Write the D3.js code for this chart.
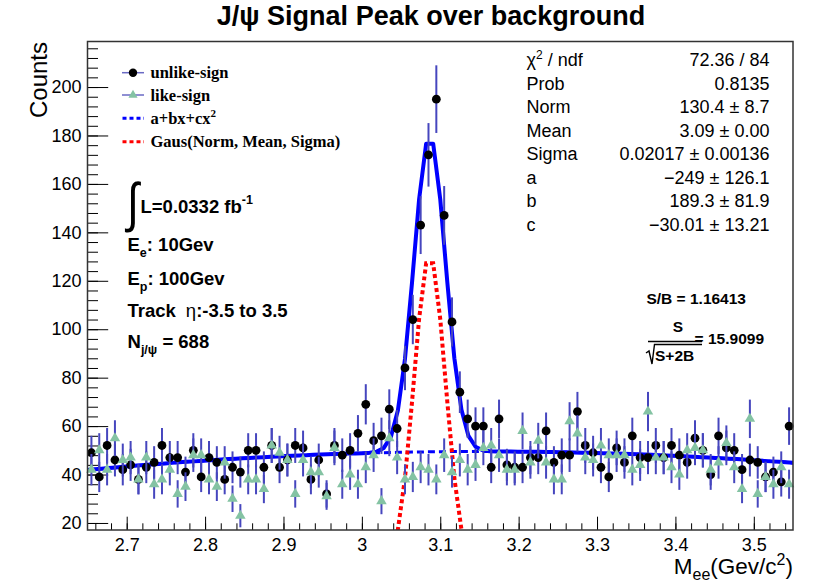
<!DOCTYPE html>
<html>
<head>
<meta charset="utf-8">
<script src="https://cdnjs.cloudflare.com/ajax/libs/d3/7.8.5/d3.min.js"></script>
<style>
    body { margin: 0; background: #fff; }
    svg text { font-family: "Liberation Sans", Arial, sans-serif; fill: #000; }
</style>
</head>
<body>
<svg id="chart" width="815" height="583"></svg>
<script>
/*global d3*/

// invariant mass bins, 0.01 GeV/c^2 wide starting at 2.65
var binLow = 2.65
var binWidth = 0.01

// counts per bin
var unlikeSign = [
    49, 39, 52, 46, 42, 44, 38, 43, 45, 52,
    47, 47, 41, 50, 39, 47, 45, 38, 43, 41,
    50, 50, 43, 52, 43, 46, 52, 51, 38, 46,
    32, 52, 48, 50, 57, 69, 54, 56, 67, 59,
    84, 104, 143, 172, 195, 147, 103, 74, 63, 60,
    60, 43, 63, 44, 43, 43, 47, 47, 58, 45,
    48, 48, 66, 52, 49, 43, 39, 51, 45, 56,
    47, 47, 52, 47, 52, 48, 45, 55, 50, 40,
    56, 51, 50, 42, 46, 45, 39, 41, 37, 60
]
var likeSign = [
    42, 50, 42, 55, 46, 47, 38, 47, 36, 38,
    42, 32, 35, 48, 48, 38, 35, 45, 30, 23,
    38, 38, 34, 52, 49, 46, 32, 46, 41, 41,
    31, 51, 36, 40, 36, 43, 48, 29, 55, 47,
    38, 39, 43, 42, 38, 48, 41, 46, 42, 44,
    51, 52, 48, 42, 42, 58, 45, 54, 45, 38,
    38, 62, 57, 47, 46, 52, 48, 48, 48, 42,
    44, 66, 47, 47, 43, 40, 50, 51, 50, 42,
    45, 53, 43, 34, 63, 32, 39, 36, 43, 36
]

// fit: Gaus(Norm, Mean, Sigma) + a + b x + c x^2
var gausPars = [130.4, 3.0865, 0.02017]
var polPars = [-249, 189.3, -30.01]

var xTicks = [2.7, 2.8, 2.9, 3.0, 3.1, 3.2, 3.3, 3.4, 3.5]
var yTicks = [20, 40, 60, 80, 100, 120, 140, 160, 180, 200]

var statNames = ['χ2 / ndf', 'Prob', 'Norm', 'Mean', 'Sigma', 'a', 'b', 'c']
var statValues = ['72.36 / 84', '0.8135', '130.4 ± 8.7', '3.09 ± 0.00',
    '0.02017 ± 0.00136', '\u2212249 ± 126.1', '189.3 ± 81.9', '\u221230.01 ± 13.21']

var svg = d3.select('#chart')
var plotL = 87.5, plotR = 793, plotT = 41.5, plotB = 530

var x = d3.scaleLinear().domain([2.65, 3.55]).range([plotL, plotR])
var y = d3.scaleLinear().domain([17.1, 218.8]).range([plotB, plotT])

var blue = '#0000ff', red = '#ff0000'
var errColor = '#4646be'
var green = '#84c3a3'

// title
svg.append('text')
    .attr('x', 431).attr('y', 25)
    .attr('text-anchor', 'middle')
    .style('font-size', '27px').style('font-weight', 'bold')
    .text('J/ψ Signal Peak over background')

// axes ---------------------------------------------------------------
var minorX = d3.range(133, 178).map(function(k) { return k * 0.02 })
var minorY = d3.range(5, 55).map(function(k) { return k * 4 })

function styleAxis(g) {
    g.select('.domain').remove()
    g.selectAll('line').attr('stroke', '#000')
    g.selectAll('text').style('font-size', '18px')
}

svg.append('g').attr('transform', 'translate(0,' + plotB + ')')
    .call(d3.axisBottom(x).tickValues(minorX).tickSizeInner(-6.7).tickSizeOuter(0).tickFormat(''))
    .call(styleAxis)
svg.append('g').attr('transform', 'translate(0,' + plotB + ')')
    .call(d3.axisBottom(x).tickValues(xTicks).tickSizeInner(-13.3).tickSizeOuter(0)
        .tickPadding(8).tickFormat(d3.format('~g')))
    .call(styleAxis)

svg.append('g').attr('transform', 'translate(' + plotL + ',0)')
    .call(d3.axisLeft(y).tickValues(minorY).tickSizeInner(-10.5).tickSizeOuter(0).tickFormat(''))
    .call(styleAxis)
svg.append('g').attr('transform', 'translate(' + plotL + ',0)')
    .call(d3.axisLeft(y).tickValues(yTicks).tickSizeInner(-20.7).tickSizeOuter(0).tickPadding(6))
    .call(styleAxis)

// axis titles
svg.append('text')
    .attr('transform', 'translate(46.5,42) rotate(-90)')
    .attr('text-anchor', 'end')
    .style('font-size', '24px')
    .text('Counts')

var xt = svg.append('text')
    .attr('x', 793).attr('y', 574)
    .attr('text-anchor', 'end')
    .style('font-size', '22.5px')
xt.append('tspan').text('M')
xt.append('tspan').attr('dy', 6).style('font-size', '16px').text('ee')
xt.append('tspan').attr('dy', -6).text('(Gev/c')
xt.append('tspan').attr('dy', -9).style('font-size', '16px').text('2')
xt.append('tspan').attr('dy', 9).text(')')

// fit curves ---------------------------------------------------------
svg.append('clipPath').attr('id', 'frameClip')
    .append('rect')
    .attr('x', plotL).attr('y', plotT)
    .attr('width', plotR - plotL).attr('height', plotB - plotT)

function pol(v) { return polPars[0] + polPars[1] * v + polPars[2] * v * v }
function gaus(v) {
    var d = (v - gausPars[1]) / gausPars[2]
    return gausPars[0] * Math.exp(-0.5 * d * d)
}

// ROOT style sampling, 100 steps across the range
var fx = d3.range(0, 101).map(function(k) { return 2.65 + 0.009 * k })
var line = d3.line().x(function(d) { return x(d[0]) }).y(function(d) { return y(d[1]) })

var curves = svg.append('g').attr('clip-path', 'url(#frameClip)')
curves.append('path')
    .attr('d', line(fx.map(function(v) { return [v, pol(v)] })))
    .attr('fill', 'none').attr('stroke', blue)
    .attr('stroke-width', 3).attr('stroke-dasharray', '7,4')
curves.append('path')
    .attr('d', line(fx.map(function(v) { return [v, gaus(v)] })))
    .attr('fill', 'none').attr('stroke', red)
    .attr('stroke-width', 4).attr('stroke-dasharray', '4,3')
curves.append('path')
    .attr('d', line(fx.map(function(v) { return [v, pol(v) + gaus(v)] })))
    .attr('fill', 'none').attr('stroke', blue)
    .attr('stroke-width', 4).attr('stroke-linejoin', 'round')

// data points --------------------------------------------------------
function toBins(arr) {
    return arr.map(function(n, i) { return { m: binLow + binWidth * (i + 0.5), n: n } })
}

function drawErrors(data) {
    svg.append('g').selectAll('line')
        .data(data).enter().append('line')
        .attr('x1', function(d) { return x(d.m) })
        .attr('x2', function(d) { return x(d.m) })
        .attr('y1', function(d) { return y(d.n - Math.sqrt(d.n)) })
        .attr('y2', function(d) { return y(d.n + Math.sqrt(d.n)) })
        .attr('stroke', errColor).attr('stroke-width', 2)
}

var unlikeData = toBins(unlikeSign)
var likeData = toBins(likeSign)

drawErrors(unlikeData)
svg.append('g').selectAll('circle')
    .data(unlikeData).enter().append('circle')
    .attr('cx', function(d) { return x(d.m) })
    .attr('cy', function(d) { return y(d.n) })
    .attr('r', 4.4).attr('fill', '#000')

drawErrors(likeData)
var tri = d3.symbol().type(d3.symbolTriangle).size(48)
svg.append('g').selectAll('path')
    .data(likeData).enter().append('path')
    .attr('d', tri)
    .attr('transform', function(d) { return 'translate(' + x(d.m) + ',' + y(d.n) + ')' })
    .attr('fill', green)

// frame
svg.append('rect')
    .attr('x', plotL).attr('y', plotT)
    .attr('width', plotR - plotL).attr('height', plotB - plotT)
    .attr('fill', 'none').attr('stroke', '#333').attr('stroke-width', 1.5)

// legend -------------------------------------------------------------
var legY = [72.7, 95, 118.3, 141.7]
var leg = svg.append('g')

leg.append('line').attr('x1', 122).attr('x2', 144).attr('y1', legY[0]).attr('y2', legY[0])
    .attr('stroke', '#6a6ac4').attr('stroke-width', 1.5)
leg.append('circle').attr('cx', 133).attr('cy', legY[0]).attr('r', 4.2).attr('fill', '#000')
leg.append('line').attr('x1', 122).attr('x2', 144).attr('y1', legY[1]).attr('y2', legY[1])
    .attr('stroke', '#6a6ac4').attr('stroke-width', 1.5)
leg.append('path').attr('d', d3.symbol().type(d3.symbolTriangle).size(36))
    .attr('transform', 'translate(133,' + legY[1] + ')').attr('fill', green)
leg.append('line').attr('x1', 122.5).attr('x2', 144).attr('y1', legY[2]).attr('y2', legY[2])
    .attr('stroke', blue).attr('stroke-width', 3).attr('stroke-dasharray', '4,3')
leg.append('line').attr('x1', 122.5).attr('x2', 144).attr('y1', legY[3]).attr('y2', legY[3])
    .attr('stroke', red).attr('stroke-width', 3).attr('stroke-dasharray', '4,3')

function legText(i) {
    return leg.append('text')
        .attr('x', 150.5).attr('y', legY[i]).attr('dy', '0.35em')
        .style('font-family', '"Liberation Serif", "Times New Roman", serif')
        .style('font-weight', 'bold').style('font-size', '16.5px')
}
legText(0).text('unlike-sign')
legText(1).text('like-sign')
var lt = legText(2)
lt.append('tspan').text('a+bx+cx')
lt.append('tspan').attr('dy', -7).style('font-size', '11px').text('2')
legText(3).text('Gaus(Norm, Mean, Sigma)')

// run info -----------------------------------------------------------
var info = svg.append('g').style('font-weight', 'bold')

info.append('text')
    .attr('transform', 'translate(127,221) scale(0.8,1)')
    .style('font-size', '54px').style('font-weight', 'normal')
    .text('∫')
var lum = info.append('text').attr('x', 140.5).attr('y', 213).style('font-size', '18.5px')
lum.append('tspan').text('L=0.0332 fb')
lum.append('tspan').attr('dy', -9).style('font-size', '12.5px').text('-1')

function infoLine(yy) {
    return info.append('text').attr('x', 127.5).attr('y', yy).attr('dy', '0.35em')
        .style('font-size', '18.5px')
}
var e1 = infoLine(245)
e1.append('tspan').text('E')
e1.append('tspan').attr('dy', 6).style('font-size', '12.5px').text('e')
e1.append('tspan').attr('dy', -6).text(': 10Gev')
var e2 = infoLine(279)
e2.append('tspan').text('E')
e2.append('tspan').attr('dy', 6).style('font-size', '12.5px').text('p')
e2.append('tspan').attr('dy', -6).text(': 100Gev')
var tr = infoLine(311)
tr.append('tspan').text('Track')
tr.append('tspan').attr('dx', 10).style('font-weight', 'normal').text('η')
tr.append('tspan').text(':-3.5 to 3.5')
var nj = infoLine(342)
nj.append('tspan').text('N')
nj.append('tspan').attr('dy', 6).style('font-size', '12.5px').text('j/ψ')
nj.append('tspan').attr('dy', -6).text(' = 688')

// fit statistics -----------------------------------------------------
var stats = svg.append('g')
statNames.forEach(function(name, i) {
    var yy = 60 + i * 23.5
    var t = stats.append('text').attr('x', 526.5).attr('y', yy).attr('dy', '0.35em')
        .style('font-size', '18px')
    if (i === 0) {
        t.append('tspan').text('χ')
        t.append('tspan').attr('dy', -7).style('font-size', '12px').text('2')
        t.append('tspan').attr('dy', 7).text(' / ndf')
    } else {
        t.text(name)
    }
    stats.append('text').attr('x', 769.5).attr('y', yy).attr('dy', '0.35em')
        .attr('text-anchor', 'end').style('font-size', '18px')
        .text(statValues[i])
})

var sb = svg.append('g').style('font-weight', 'bold').style('font-size', '15.5px')
sb.append('text').attr('x', 746).attr('y', 298.3).attr('dy', '0.35em')
    .attr('text-anchor', 'end').text('S/B = 1.16413')
sb.append('text').attr('x', 678).attr('y', 327).attr('dy', '0.35em').attr('text-anchor', 'middle').text('S')
sb.append('line').attr('x1', 648).attr('x2', 702).attr('y1', 341.5).attr('y2', 341.5)
    .attr('stroke', '#000').attr('stroke-width', 1.6)
sb.append('path').attr('d', 'M646,353 L649,351 L652,364 L654.5,344.5 L702,344.5')
    .attr('fill', 'none').attr('stroke', '#000').attr('stroke-width', 1.4)
sb.append('text').attr('x', 655).attr('y', 356).attr('dy', '0.35em').text('S+2B')
sb.append('text').attr('x', 764).attr('y', 338.5).attr('dy', '0.35em')
    .attr('text-anchor', 'end').text('= 15.9099')
</script>
</body>
</html>
